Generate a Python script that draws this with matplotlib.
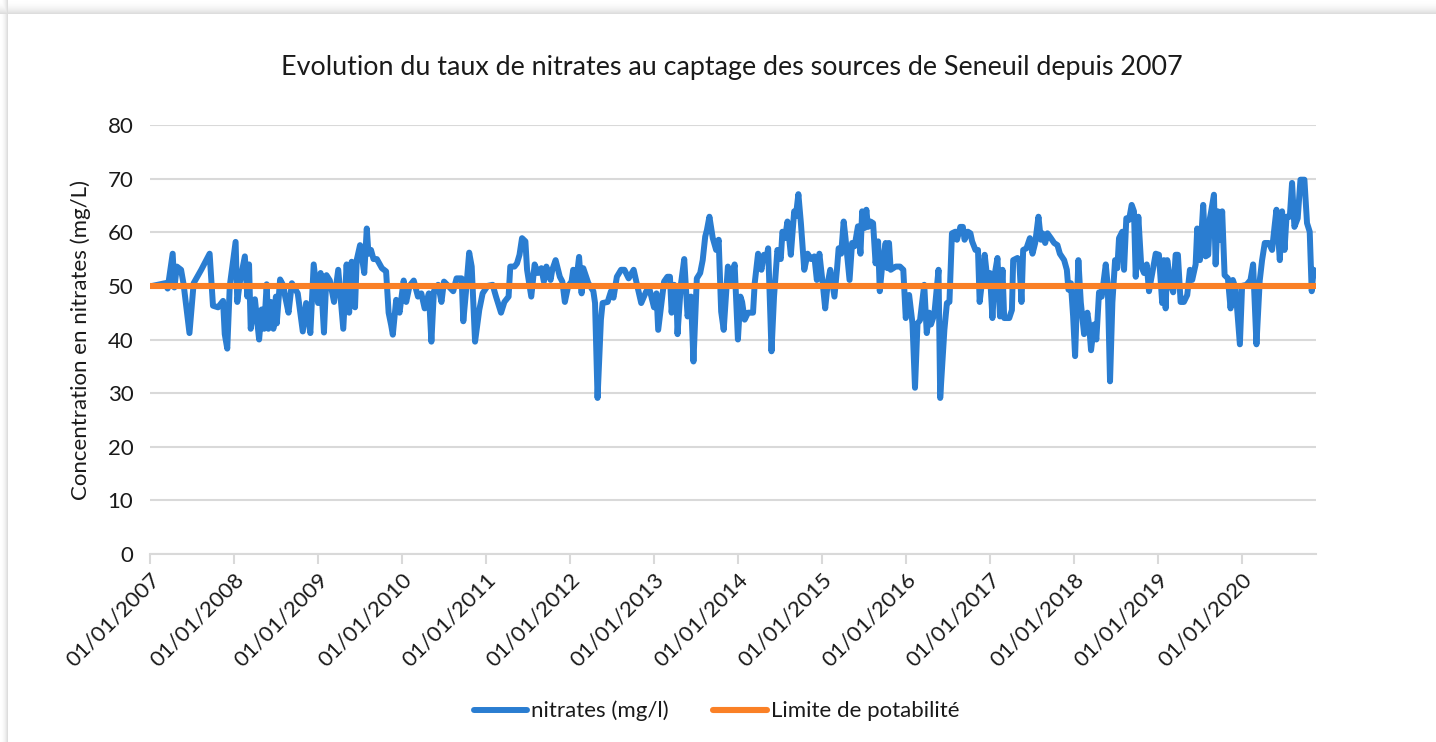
import matplotlib
matplotlib.use("Agg")
import matplotlib.pyplot as plt
import matplotlib.dates as mdates
import numpy as np
from datetime import datetime, timedelta

# sampling dates as decimal years
years = [
    2007.03, 2007.18, 2007.21, 2007.27, 2007.29, 2007.32, 2007.37, 2007.40, 2007.47, 2007.52,
    2007.61, 2007.71, 2007.75, 2007.81, 2007.87, 2007.89, 2007.92, 2007.95, 2008.02, 2008.04,
    2008.07, 2008.13, 2008.16, 2008.18, 2008.20, 2008.25, 2008.30, 2008.33, 2008.36, 2008.39,
    2008.41, 2008.44, 2008.47, 2008.50, 2008.51, 2008.55, 2008.59, 2008.61, 2008.65, 2008.69,
    2008.76, 2008.82, 2008.86, 2008.91, 2008.95, 2009.00, 2009.03, 2009.07, 2009.10, 2009.14,
    2009.19, 2009.24, 2009.26, 2009.30, 2009.34, 2009.37, 2009.40, 2009.44, 2009.46, 2009.50,
    2009.55, 2009.58, 2009.60, 2009.63, 2009.66, 2009.70, 2009.76, 2009.81, 2009.84, 2009.87,
    2009.89, 2009.93, 2009.97, 2010.02, 2010.05, 2010.09, 2010.14, 2010.19, 2010.23, 2010.27,
    2010.32, 2010.35, 2010.38, 2010.43, 2010.47, 2010.50, 2010.55, 2010.61, 2010.65, 2010.71,
    2010.73, 2010.76, 2010.80, 2010.83, 2010.87, 2010.92, 2010.96, 2011.02, 2011.08, 2011.12,
    2011.18, 2011.22, 2011.27, 2011.29, 2011.34, 2011.37, 2011.40, 2011.43, 2011.47, 2011.49,
    2011.54, 2011.58, 2011.62, 2011.66, 2011.69, 2011.72, 2011.77, 2011.79, 2011.83, 2011.88,
    2011.91, 2011.94, 2011.98, 2012.02, 2012.04, 2012.07, 2012.11, 2012.14, 2012.16, 2012.22,
    2012.28, 2012.30, 2012.33, 2012.37, 2012.39, 2012.45, 2012.49, 2012.52, 2012.56, 2012.61,
    2012.65, 2012.70, 2012.76, 2012.80, 2012.85, 2012.91, 2012.95, 2013.00, 2013.03, 2013.05,
    2013.09, 2013.12, 2013.16, 2013.19, 2013.21, 2013.24, 2013.27, 2013.28, 2013.32, 2013.36,
    2013.40, 2013.44, 2013.47, 2013.51, 2013.55, 2013.58, 2013.61, 2013.63, 2013.66, 2013.70,
    2013.74, 2013.77, 2013.80, 2013.83, 2013.88, 2013.92, 2013.96, 2014.00, 2014.03, 2014.05,
    2014.08, 2014.12, 2014.18, 2014.20, 2014.24, 2014.28, 2014.31, 2014.34, 2014.36, 2014.40,
    2014.43, 2014.47, 2014.51, 2014.53, 2014.56, 2014.59, 2014.63, 2014.67, 2014.69, 2014.72,
    2014.75, 2014.79, 2014.83, 2014.87, 2014.91, 2014.94, 2014.97, 2015.01, 2015.04, 2015.07,
    2015.10, 2015.15, 2015.18, 2015.20, 2015.23, 2015.26, 2015.28, 2015.33, 2015.36, 2015.39,
    2015.43, 2015.46, 2015.48, 2015.51, 2015.53, 2015.55, 2015.58, 2015.61, 2015.64, 2015.67,
    2015.69, 2015.72, 2015.76, 2015.78, 2015.80, 2015.82, 2015.88, 2015.93, 2015.97, 2016.00,
    2016.04, 2016.08, 2016.11, 2016.14, 2016.17, 2016.22, 2016.25, 2016.28, 2016.30, 2016.34,
    2016.39, 2016.41, 2016.46, 2016.49, 2016.52, 2016.55, 2016.59, 2016.61, 2016.65, 2016.68,
    2016.70, 2016.74, 2016.77, 2016.79, 2016.83, 2016.86, 2016.88, 2016.91, 2016.94, 2016.98,
    2017.00, 2017.03, 2017.06, 2017.09, 2017.12, 2017.15, 2017.17, 2017.21, 2017.23, 2017.262,
    2017.277, 2017.328, 2017.349, 2017.376, 2017.396, 2017.435, 2017.476, 2017.507, 2017.539, 2017.578,
    2017.607, 2017.626, 2017.658, 2017.685, 2017.726, 2017.765, 2017.804, 2017.833, 2017.884, 2017.916,
    2017.935, 2017.964, 2017.991, 2018.015, 2018.054, 2018.083, 2018.122, 2018.161, 2018.181, 2018.205,
    2018.241, 2018.268, 2018.300, 2018.332, 2018.380, 2018.404, 2018.431, 2018.459, 2018.491, 2018.518,
    2018.538, 2018.577, 2018.598, 2018.625, 2018.657, 2018.689, 2018.716, 2018.737, 2018.768, 2018.803,
    2018.836, 2018.868, 2018.895, 2018.934, 2018.975, 2019.014, 2019.053, 2019.073, 2019.094, 2019.113,
    2019.153, 2019.184, 2019.213, 2019.240, 2019.272, 2019.311, 2019.351, 2019.383, 2019.410, 2019.451,
    2019.470, 2019.502, 2019.541, 2019.570, 2019.601, 2019.621, 2019.636, 2019.669, 2019.689, 2019.716,
    2019.748, 2019.767, 2019.796, 2019.835, 2019.867, 2019.894, 2019.926, 2019.978, 2020.005, 2020.057,
    2020.105, 2020.136, 2020.176, 2020.215, 2020.243, 2020.275, 2020.323, 2020.362, 2020.391, 2020.414,
    2020.454, 2020.481, 2020.510, 2020.534, 2020.573, 2020.600, 2020.628, 2020.667, 2020.700, 2020.747,
    2020.778, 2020.810, 2020.834, 2020.857, 2020.885,
]

nitrates = [
    50, 50.5, 49.5, 56, 49.7, 53.6, 53, 50.3, 41.2, 50.5,
    53, 56, 46.3, 46, 47.2, 41, 38.3, 50, 58.2, 47,
    50.6, 55.5, 48, 54, 42, 47.5, 40, 45.6, 42, 50.3,
    42, 47, 42, 48, 43, 51.2, 50, 48, 45, 50.5,
    48.6, 41.5, 46.8, 41.2, 54, 46.8, 52.4, 41.3, 52, 51,
    47, 53, 49.3, 42, 54, 45, 54.5, 46, 54.8, 57.6,
    52.4, 60.7, 56, 56.7, 55, 55, 53.3, 52.7, 45, 42.7,
    40.9, 47.4, 45, 51, 47, 50, 51, 48, 48.6, 45.8,
    48.6, 39.6, 49, 50.2, 47, 50.8, 50, 49, 51.4, 51.4,
    43.4, 48.6, 56.2, 53.6, 39.6, 45.5, 48.6, 50, 50.2, 48,
    45, 47, 48, 53.6, 53.6, 54.2, 55.8, 58.9, 58.3, 53,
    48, 54, 52.4, 53.3, 50.8, 53.6, 51.1, 53, 54.8, 51.7,
    50.8, 47, 50, 50.8, 53, 50, 55.4, 48.6, 53.3, 50.5,
    49, 46.8, 29.1, 43.7, 46.8, 47, 49, 47.8, 51.7, 53,
    53, 51.4, 53, 50.2, 46.8, 49, 49.3, 46, 48.6, 41.8,
    47, 50.8, 51.7, 51.7, 45, 50.2, 46.8, 41, 50.2, 55,
    44.3, 48, 35.9, 51.4, 52.4, 54.8, 59.2, 60.4, 62.9, 58.9,
    56.7, 58.6, 45.2, 41.8, 53.6, 50.3, 54, 40, 48, 47,
    43.7, 45, 45, 50.5, 56, 53, 55.8, 55.2, 57, 37.8,
    48, 56.7, 55, 60.1, 58.9, 62, 55.8, 63.9, 63, 67.1,
    61.7, 53, 56, 55, 55.5, 51.1, 56, 50.5, 45.8, 50.5,
    53, 48, 53, 57, 56, 62, 59.2, 51.1, 58, 57.4,
    61.1, 56, 63.9, 60.8, 64.2, 61, 62, 61.7, 54.2, 58.3,
    49, 54, 58, 53.3, 58, 53, 53.6, 53.6, 53, 44,
    48.3, 43, 31, 43, 43.6, 50.2, 41.2, 45, 42.8, 44.7,
    53, 29.1, 41.8, 46.8, 47, 59.8, 60.1, 58.6, 61, 61,
    58.6, 60.1, 59.8, 58.3, 56.7, 56.7, 47, 51.1, 55.8, 50,
    52.4, 44, 52.4, 55.2, 44.3, 53, 44, 44, 44, 45.5,
    54.8, 55.2, 54.8, 47, 56.7, 57, 58.9, 56, 58, 62.9,
    58.6, 59.8, 58, 59.8, 58.9, 58, 57.6, 56, 54.8, 53,
    49.3, 50.5, 44.3, 36.9, 54.8, 46.9, 41, 45, 42.8, 38,
    42.8, 40, 48.8, 48, 54, 50, 32.2, 46.9, 54.8, 53.3,
    58.9, 60.1, 53, 62.6, 62.3, 65.1, 63.9, 51.7, 62.9, 53.6,
    52.4, 54, 49, 52.4, 56, 55.8, 46.8, 54.8, 45.8, 54.8,
    50.3, 48.8, 55.8, 55.8, 47, 47, 48.3, 53, 51.1, 54,
    60.7, 54.8, 65.1, 55.5, 55.8, 62.6, 63.9, 67, 54, 63.9,
    58.6, 63.9, 52, 51.4, 45.8, 51.1, 49.6, 39.1, 50, 50.2,
    51.1, 54, 39.1, 51, 54.8, 58, 58, 56.7, 61, 64.2,
    54.8, 63.9, 56.7, 62.9, 62.9, 69.2, 61, 62.6, 69.8, 69.8,
    61.7, 60.1, 49, 53, 52,
]

limit_value = 50
tick_years = list(range(2007, 2021))
y_ticks = list(range(0, 81, 10))

title = "Evolution du taux de nitrates au captage des sources de Seneuil depuis 2007"
y_label = "Concentration en nitrates (mg/L)"
series_names = ["nitrates (mg/l)", "Limite de potabilité"]


def to_date(y):
    base = int(y)
    return datetime(base, 1, 1) + timedelta(days=(y - base) * 365.25)


dates = [to_date(y) for y in years]
start = datetime(2007, 1, 1)
end = dates[-1]

plt.rcParams['font.family'] = ['Lato', 'DejaVu Sans']
W, H = 1436, 742
fig = plt.figure(figsize=(W / 100, H / 100), dpi=100)

# card shadow at the top and left edges
bg = np.ones((H, W, 3))
for r in range(14):
    bg[r, :, :] = np.minimum(bg[r, :, :], 1 - 0.13 * (r / 13) ** 2)
for c in range(8):
    bg[:, c, :] = np.minimum(bg[:, c, :], 1 - 0.13 * (c / 7) ** 2)
bg[14:, 8:, :] = 1
bax = fig.add_axes([0, 0, 1, 1], zorder=-10)
bax.imshow(bg, aspect='auto', interpolation='bilinear')
bax.axis('off')

ax = fig.add_axes([150 / W, 1 - 554 / H, 1166 / W, 429 / H])
ax.patch.set_alpha(0)

blue = '#2A7DD1'
orange = '#FA8026'
grid = '#d9d9d9'
txt = '#1a1a1a'
fs = 16

ax.plot(dates, nitrates, color=blue, lw=4.3, solid_joinstyle='round',
        solid_capstyle='round', label=series_names[0], zorder=3)
ax.plot([start, end], [limit_value, limit_value], color=orange, lw=4.4,
        solid_capstyle='round', label=series_names[1], zorder=4)

ax.set_xlim(start, end)
ax.set_ylim(0, 80)
ax.set_yticks(y_ticks)
ax.yaxis.grid(True, color=grid, lw=1.5)
ax.set_axisbelow(True)
for s in ['left', 'right', 'top']:
    ax.spines[s].set_visible(False)
ax.spines['bottom'].set_color(grid)
ax.spines['bottom'].set_linewidth(1.5)
ax.tick_params(axis='y', length=0, pad=12, labelsize=fs, labelcolor=txt)
ax.tick_params(axis='x', length=7, width=1.5, color=grid, labelsize=fs,
               labelcolor=txt, pad=4)

ax.set_xticks([datetime(y, 1, 1) for y in tick_years])
ax.xaxis.set_major_formatter(mdates.DateFormatter('%d/%m/%Y'))
for lab in ax.get_xticklabels():
    lab.set_rotation(45)
    lab.set_ha('right')
    lab.set_va('top')
    lab.set_rotation_mode('anchor')

ax.set_ylabel(y_label, fontsize=fs, color=txt, labelpad=12)
fig.text(0.51, 1 - 68 / H, title, ha='center', va='center', fontsize=19.4, color=txt)

fig.legend(loc='center', bbox_to_anchor=(0.499, 1 - 711 / H), ncol=2,
           frameon=False, fontsize=fs, handlelength=2.4, handletextpad=0.2,
           columnspacing=2.0, labelcolor=txt)

fig.savefig('out.png', dpi=100)
